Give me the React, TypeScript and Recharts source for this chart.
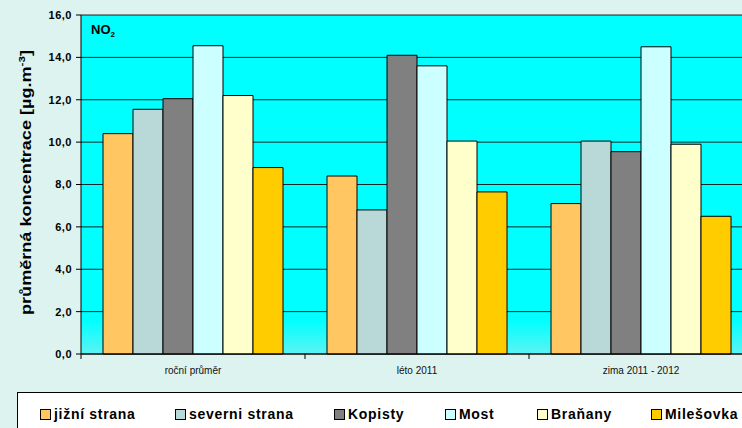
import { Bar, BarChart, CartesianGrid, Label, Legend, XAxis, YAxis } from "recharts";

const categories = ["roční průměr", "léto 2011", "zima 2011 - 2012"];
const jizni = [10.4, 8.4, 7.1];
const severni = [11.55, 6.8, 10.05];
const kopisty = [12.05, 14.1, 9.55];
const most = [14.55, 13.6, 14.5];
const branany = [12.2, 10.05, 9.9];
const milesovka = [8.8, 7.65, 6.5];
const yTicks = [0, 2, 4, 6, 8, 10, 12, 14, 16];

const series = [
  { key: "jizni", name: "jižní strana", values: jizni, color: "#FFC662" },
  { key: "severni", name: "severni strana", values: severni, color: "#B9D9D9" },
  { key: "kopisty", name: "Kopisty", values: kopisty, color: "#808080" },
  { key: "most", name: "Most", values: most, color: "#CCFFFF" },
  { key: "branany", name: "Braňany", values: branany, color: "#FFFFCC" },
  { key: "milesovka", name: "Milešovka", values: milesovka, color: "#FFCC00" },
];

const data = categories.map((c, i) => {
  const row: Record<string, string | number> = { cat: c };
  series.forEach((s) => (row[s.key] = s.values[i]));
  return row;
});

const FONT = "Arial, 'Liberation Sans', sans-serif";
const CHART_W = 760;
const LEFT = 81;
const RIGHT = 7;
const halfBand = (CHART_W - LEFT - RIGHT) / 3 / 2;
// left edge of each legend item inside the legend box
const legendLeft = [22, 157, 316, 427, 519, 633];

// x tick: label at the center, tick mark on the category's left edge
function CatTick(props: any) {
  const { x, y, payload } = props;
  return (
    <g>
      <line x1={x - halfBand} x2={x - halfBand} y1={y - 13} y2={y - 8} stroke="#000" />
      <text x={x} y={y} dy="0.71em" textAnchor="middle" fontSize={10} fontFamily={FONT} fill="#111">
        {payload.value}
      </text>
    </g>
  );
}

function LegendBox() {
  return (
    <div
      style={{
        position: "relative",
        boxSizing: "border-box",
        width: "100%",
        height: "100%",
        background: "#fff",
        border: "1px solid #000",
        fontFamily: FONT,
        fontWeight: "bold",
        fontSize: 14,
        letterSpacing: 0.7,
        whiteSpace: "nowrap",
      }}
    >
      {series.map((s, i) => (
        <span
          key={s.key}
          style={{ position: "absolute", left: legendLeft[i], top: 13, display: "flex", alignItems: "center" }}
        >
          <span
            style={{
              display: "inline-block",
              width: 9,
              height: 9,
              background: s.color,
              border: "1px solid #000",
              marginRight: 3,
            }}
          />
          {s.name}
        </span>
      ))}
    </div>
  );
}

export default function App() {
  return (
    <div
      style={{
        position: "absolute",
        left: 0,
        top: 0,
        width: 742,
        height: 428,
        overflow: "hidden",
        background: "#DDF3EF",
      }}
    >
      <BarChart
        width={CHART_W}
        height={440}
        data={data}
        barCategoryGap={22}
        barGap={0}
        margin={{ top: 15, right: RIGHT, bottom: 0, left: 0 }}
      >
        <defs>
          <linearGradient id="plotBg" x1="0" y1="0" x2="0" y2="1">
            <stop offset="0%" stopColor="#00FFFF" />
            <stop offset="90%" stopColor="#00FFFF" />
            <stop offset="100%" stopColor="#5CF3F3" />
          </linearGradient>
        </defs>
        <CartesianGrid vertical={false} stroke="#000" strokeOpacity={0.85} fill="url(#plotBg)" fillOpacity={1} />
        <XAxis
          dataKey="cat"
          height={38}
          stroke="#000"
          tickLine={false}
          tickSize={5}
          tickMargin={8}
          tick={<CatTick />}
          interval={0}
        />
        <YAxis
          width={LEFT}
          domain={[0, 16]}
          ticks={yTicks}
          stroke="#000"
          tickSize={5}
          tickMargin={4}
          tickFormatter={(v: number) => v.toFixed(1).replace(".", ",")}
          tick={{ fontSize: 11, fontWeight: "bold", fontFamily: FONT, fill: "#000", letterSpacing: 0.5 }}
        >
          <Label
            content={({ viewBox }: any) => {
              const cy = viewBox.y + viewBox.height / 2 - 2;
              return (
                <text
                  x={31}
                  y={cy}
                  transform={`rotate(-90 31 ${cy})`}
                  textAnchor="middle"
                  fontFamily={FONT}
                  fontWeight="bold"
                  fontSize={14}
                  fill="#000"
                  textLength={265}
                  lengthAdjust="spacingAndGlyphs"
                >
                  průměrná koncentrace [µg.m
                  <tspan dy={-6} fontSize={9}>
                    -3
                  </tspan>
                  <tspan dy={6}>]</tspan>
                </text>
              );
            }}
          />
          <Label
            content={({ viewBox }: any) => (
              <text
                x={viewBox.x + viewBox.width + 10}
                y={viewBox.y + 19}
                fontFamily={FONT}
                fontWeight="bold"
                fontSize={13}
                fill="#000"
              >
                NO
                <tspan dy={3} fontSize={8}>
                  2
                </tspan>
              </text>
            )}
          />
        </YAxis>
        <Legend
          verticalAlign="bottom"
          content={() => <LegendBox />}
          wrapperStyle={{ left: 17, width: 760, height: 48 }}
        />
        {series.map((s) => (
          <Bar
            key={s.key}
            dataKey={s.key}
            name={s.name}
            fill={s.color}
            stroke="#000"
            strokeWidth={1}
            isAnimationActive={false}
          />
        ))}
      </BarChart>
    </div>
  );
}
